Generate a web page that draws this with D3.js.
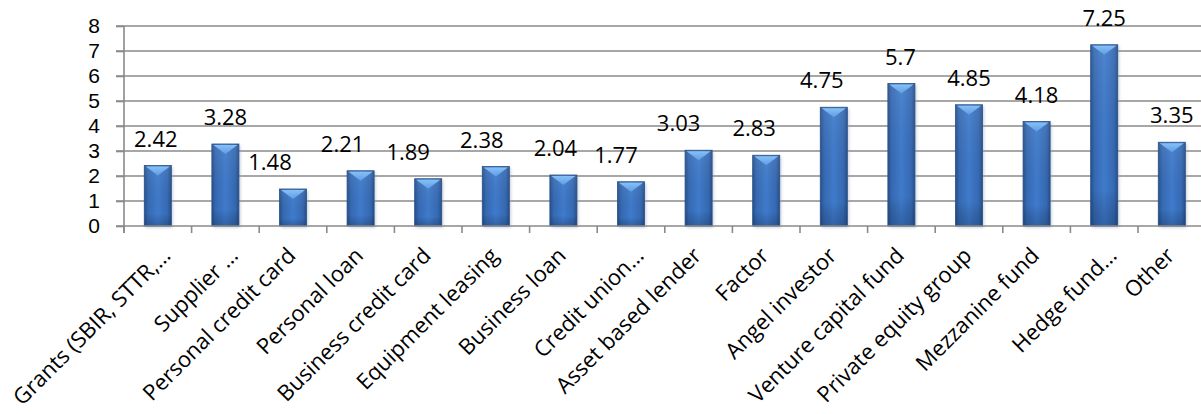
<!DOCTYPE html>
<html>
<head>
<meta charset="utf-8">
<script src="https://cdn.jsdelivr.net/npm/d3@7"></script>
<style>
  html, body { margin: 0; padding: 0; background: #fff; overflow: hidden; }
  svg { display: block; font-family: "Open Sans", "DejaVu Sans", sans-serif; }
</style>
</head>
<body>
<svg id="chart" width="1201" height="414"></svg>
<script>
// Average rating by funding source
const categories = [
  "Grants (SBIR, STTR,\u2026", "Supplier \u2026", "Personal credit card", "Personal loan",
  "Business credit card", "Equipment leasing", "Business loan", "Credit union\u2026",
  "Asset based lender", "Factor", "Angel investor", "Venture capital fund",
  "Private equity group", "Mezzanine fund", "Hedge fund\u2026", "Other"
];
const values = [2.42, 3.28, 1.48, 2.21, 1.89, 2.38, 2.04, 1.77,
                3.03, 2.83, 4.75, 5.7, 4.85, 4.18, 7.25, 3.35];
const valueLabels = ["2.42", "3.28", "1.48", "2.21", "1.89", "2.38", "2.04", "1.77",
                     "3.03", "2.83", "4.75", "5.7", "4.85", "4.18", "7.25", "3.35"];
const yTicks = [0, 1, 2, 3, 4, 5, 6, 7, 8];

// horizontal nudge of each value label, in pixels
const labelShift = [-2, 0, -23, -18, -20, -14, -8, -15, -20, -12, -12, -1, 0, 0, 0, 0];

const svg = d3.select("#chart");
const W = 1201;
const plotLeft = 124, plotTop = 26, plotBottom = 226;
const step = 67.6;

const x = d3.scaleBand()
  .domain(categories)
  .range([plotLeft, plotLeft + step * categories.length])
  .paddingInner(0.6)
  .paddingOuter(0.3);

const y = d3.scaleLinear().domain([0, 8]).range([plotBottom, plotTop]);

const defs = svg.append("defs");
const g1 = defs.append("linearGradient").attr("id", "barBody")
  .attr("x1", 0).attr("x2", 1).attr("y1", 0).attr("y2", 0);
[["0%", "#24508c"], ["14%", "#3669b2"], ["50%", "#3f7bcc"], ["86%", "#3669b2"], ["100%", "#24508c"]]
  .forEach(([o, c]) => g1.append("stop").attr("offset", o).attr("stop-color", c));
const g2 = defs.append("linearGradient").attr("id", "barShade")
  .attr("x1", 0).attr("x2", 0).attr("y1", 0).attr("y2", 1);
[["0%", "#ffffff", 0.08], ["80%", "#000000", 0], ["100%", "#0a1f40", 0.25]]
  .forEach(([o, c, a]) => g2.append("stop").attr("offset", o).attr("stop-color", c).attr("stop-opacity", a));
const g3 = defs.append("linearGradient").attr("id", "chevron")
  .attr("x1", 0).attr("x2", 0).attr("y1", 0).attr("y2", 1);
[["0%", "#86c0f6"], ["100%", "#5e9de4"]]
  .forEach(([o, c]) => g3.append("stop").attr("offset", o).attr("stop-color", c));
const blur = defs.append("filter").attr("id", "soft").attr("x", "-30%").attr("y", "-10%")
  .attr("width", "160%").attr("height", "130%");
blur.append("feGaussianBlur").attr("stdDeviation", 1.6);

// gridlines
svg.append("g").selectAll("line").data(yTicks.slice(1)).join("line")
  .attr("x1", plotLeft - 8).attr("x2", W)
  .attr("y1", d => y(d)).attr("y2", d => y(d))
  .attr("stroke", "#8a8a8a").attr("stroke-width", 1.6);

// y axis
const yAxis = svg.append("g")
  .attr("transform", `translate(${plotLeft},0)`)
  .call(d3.axisLeft(y).tickValues(yTicks).tickSize(8).tickPadding(16).tickFormat(d3.format("d")));
yAxis.select(".domain").attr("stroke", "#8a8a8a").attr("stroke-width", 1.6)
  .attr("d", `M0,${plotTop}V${plotBottom + 7}`);
yAxis.selectAll(".tick line").attr("stroke", "#8a8a8a").attr("stroke-width", 1.6);
yAxis.selectAll(".tick text").attr("font-size", 21).attr("fill", "#000")
  .attr("font-family", "'Liberation Sans', Arial, sans-serif");

// bars
const bars = svg.append("g").selectAll("g").data(values).join("g");
bars.append("rect")
  .attr("x", (d, i) => x(categories[i]) + 1.5)
  .attr("y", d => y(d) + 1.5)
  .attr("width", x.bandwidth())
  .attr("height", d => plotBottom - y(d))
  .attr("fill", "#9aa6b8").attr("opacity", 0.55).attr("filter", "url(#soft)");
bars.append("rect")
  .attr("x", (d, i) => x(categories[i]))
  .attr("y", d => y(d))
  .attr("width", x.bandwidth())
  .attr("height", d => plotBottom - y(d))
  .attr("fill", "url(#barBody)");
bars.append("rect")
  .attr("x", (d, i) => x(categories[i]))
  .attr("y", d => y(d))
  .attr("width", x.bandwidth())
  .attr("height", d => plotBottom - y(d))
  .attr("fill", "url(#barShade)")
  .attr("stroke", "#2a5088").attr("stroke-width", 0.8);
bars.append("path")
  .attr("d", (d, i) => {
    const x0 = x(categories[i]) + 1.5, x1 = x(categories[i]) + x.bandwidth() - 1.5;
    const t = y(d) + 1;
    return `M${x0},${t}L${x1},${t}L${(x0 + x1) / 2},${t + 9}Z`;
  })
  .attr("fill", "url(#chevron)");

// x axis line and category ticks
svg.append("line")
  .attr("x1", plotLeft - 8).attr("x2", W)
  .attr("y1", plotBottom).attr("y2", plotBottom)
  .attr("stroke", "#8a8a8a").attr("stroke-width", 1.6);
const bounds = categories.map(c => x(c) - x.step() * x.paddingInner() / 2);
svg.append("g").selectAll("line").data(bounds).join("line")
  .attr("x1", d => d).attr("x2", d => d)
  .attr("y1", plotBottom).attr("y2", plotBottom + 7)
  .attr("stroke", "#8a8a8a").attr("stroke-width", 1.6);

// value labels
svg.append("g").selectAll("text").data(values).join("text")
  .attr("x", (d, i) => x(categories[i]) + x.bandwidth() / 2 + labelShift[i])
  .attr("y", d => y(d) - 19)
  .attr("text-anchor", "middle")
  .attr("font-size", 22)
  .attr("fill", "#000")
  .text((d, i) => valueLabels[i]);

// category labels; shortened names keep the anchor of their full text
svg.append("g").selectAll("text").data(categories).join("text")
  .attr("transform", c => {
    const cx = x(c) + x.bandwidth() / 2 + (c.endsWith("\u2026") ? 14 : 4);
    return `translate(${cx},${plotBottom + 31}) rotate(-45)`;
  })
  .attr("text-anchor", "end")
  .attr("font-size", 22)
  .attr("fill", "#000")
  .text(c => c);
</script>
</body>
</html>
